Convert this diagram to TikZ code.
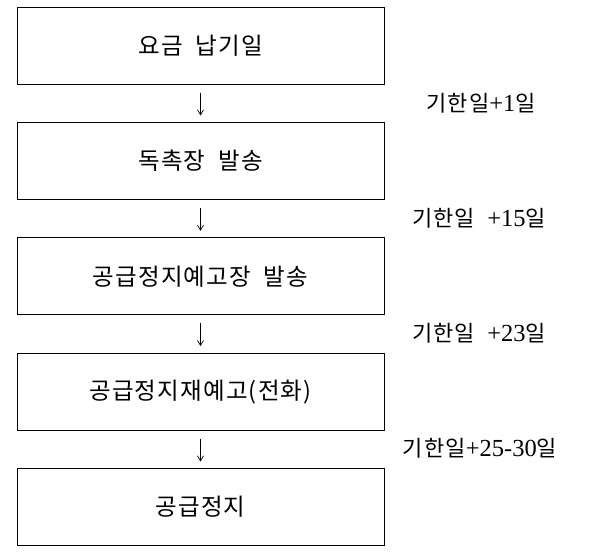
\documentclass[tikz,border=0pt]{standalone}
\usepackage{fontspec}
\setmainfont{Liberation Serif}
\newfontfamily\cjk{Noto Sans CJK KR}[LetterSpace=5]
\usetikzlibrary{arrows.meta}
\begin{document}
\begin{tikzpicture}[x=1pt,y=-1pt,
  stepbox/.style={draw, line width=1.0pt, minimum width=367pt, minimum height=77pt, inner sep=0pt, font=\cjk\fontsize{23.5}{27}\selectfont},
  lbl/.style={font=\fontsize{24.5}{28}\selectfont, inner sep=0pt},
  flow/.style={-{Straight Barb[length=5pt,width=6pt]}, line width=0.7pt}]
\useasboundingbox (0,0) rectangle (615,554);
\node[stepbox] (b1) at (200.5,45.7) {요금\ \ 납기일};
\node[stepbox] (b2) at (200.5,161) {독촉장\ \ 발송};
\node[stepbox] (b3) at (200.5,276.3) {공급정지예고장\ \ 발송};
\node[stepbox] (b4) at (200.5,391.6) {공급정지재예고(전화)};
\node[stepbox] (b5) at (200.5,507) {공급정지};
\foreach \a/\b in {b1/b2,b2/b3,b3/b4,b4/b5}{
  \draw[flow] ([yshift=-8pt]\a.south) -- ([yshift=6.5pt]\b.north);
}
\newcommand\hg[1]{{\cjk\fontsize{22}{25}\selectfont #1}}
\node[lbl] (l1) at (481,103) {\hg{기한일}+1\hg{일}};
\node[lbl] (l2) at (479,218) {\hg{기한일}\ \ +15\hg{일}};
\node[lbl] (l3) at (479,333) {\hg{기한일}\ \ +23\hg{일}};
\node[lbl] (l4) at (480,448) {\hg{기한일}+25-30\hg{일}};
\end{tikzpicture}
\end{document}
